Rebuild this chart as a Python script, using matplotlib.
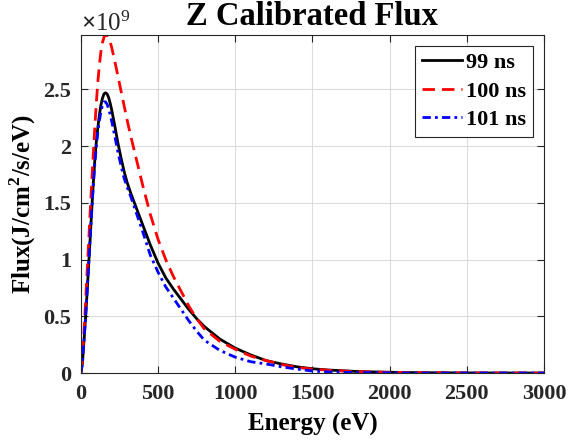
import numpy as np
import matplotlib
matplotlib.use("Agg")
import matplotlib.pyplot as plt
from matplotlib.ticker import ScalarFormatter

plt.rcParams['font.family'] = ['Liberation Serif', 'DejaVu Serif']
plt.rcParams['font.weight'] = 'bold'
plt.rcParams['mathtext.fontset'] = 'custom'
plt.rcParams['mathtext.rm'] = 'Liberation Serif'
plt.rcParams['mathtext.bf'] = 'Liberation Serif:bold'

# photon energy grid (eV)
energy = [0, 10, 20, 30, 40, 50, 60, 70, 80, 90, 100, 110, 120, 130, 140, 150,
          160, 170, 180, 190, 200, 220, 240, 260, 280, 300, 325, 350, 400, 450,
          500, 550, 600, 650, 700, 750, 800, 900, 1000, 1100, 1200, 1300, 1400,
          1500, 1600, 1800, 2000, 2200, 2500, 3000]

# flux in units of 1e9 J/cm^2/s/eV
flux_99 = [0, 0.08, 0.27, 0.47, 0.69, 0.93, 1.17, 1.42, 1.65, 1.86, 2.03, 2.16,
           2.27, 2.36, 2.42, 2.46, 2.47, 2.46, 2.43, 2.38, 2.32, 2.18, 2.03,
           1.90, 1.78, 1.68, 1.58, 1.49, 1.31, 1.13, 0.97, 0.84, 0.74, 0.65,
           0.56, 0.48, 0.41, 0.30, 0.22, 0.16, 0.11, 0.08, 0.055, 0.038, 0.027,
           0.013, 0.007, 0.003, 0.001, 0]
flux_100 = [0, 0.12, 0.35, 0.60, 0.87, 1.13, 1.40, 1.66, 1.91, 2.15, 2.37, 2.56,
            2.71, 2.83, 2.91, 2.96, 2.98, 2.98, 2.96, 2.92, 2.87, 2.75, 2.62,
            2.49, 2.36, 2.23, 2.08, 1.94, 1.66, 1.40, 1.18, 1.00, 0.85, 0.72,
            0.59, 0.48, 0.39, 0.28, 0.21, 0.15, 0.11, 0.075, 0.05, 0.035, 0.025,
            0.012, 0.006, 0.003, 0.001, 0]
flux_101 = [0, 0.08, 0.27, 0.47, 0.69, 0.93, 1.17, 1.41, 1.63, 1.83, 1.99, 2.12,
            2.22, 2.30, 2.36, 2.39, 2.39, 2.37, 2.33, 2.28, 2.22, 2.09, 1.95,
            1.83, 1.72, 1.64, 1.55, 1.45, 1.25, 1.04, 0.89, 0.76, 0.66, 0.56,
            0.46, 0.37, 0.29, 0.20, 0.14, 0.10, 0.08, 0.055, 0.035, 0.018, 0.01,
            0.004, 0.002, 0, 0, 0]

E = np.array(energy)
f99 = np.array(flux_99) * 1e9
f100 = np.array(flux_100) * 1e9
f101 = np.array(flux_101) * 1e9


class SciFormatter(ScalarFormatter):
    # plain tick numbers (0, 0.5, 1 ...) with the x10^9 offset kept
    def _set_format(self):
        self.format = '%g'


fig = plt.figure(figsize=(5.69, 4.42), dpi=100)
ax = fig.add_axes([0.142, 0.156, 0.814, 0.765])

ax.plot(E, f99, 'k-', lw=2, label='99 ns')
ax.plot(E, f100, 'r--', lw=2, label='100 ns', dashes=(4.5, 2.5))
ax.plot(E, f101, 'b-.', lw=2, label='101 ns', dashes=(3, 1.5, 1, 1.5))

ax.set_xlim(0, 3000)
ax.set_ylim(0, max(f100.max(), f99.max(), f101.max()))
ax.set_xticks([0, 500, 1000, 1500, 2000, 2500, 3000])
ax.set_yticks([0, 0.5e9, 1e9, 1.5e9, 2e9, 2.5e9])

fmt = SciFormatter(useMathText=True)
fmt.set_powerlimits((0, 0))
ax.yaxis.set_major_formatter(fmt)
ax.yaxis.get_offset_text().set_fontsize(18)
ax.yaxis.get_offset_text().set_fontweight('normal')

ax.grid(True, color='#dcdcdc', lw=0.8)
ax.set_axisbelow(True)
ax.tick_params(direction='in', top=True, right=True, labelsize=16,
               colors='#262626', length=5)
ax.tick_params(axis='x', pad=8)
ax.tick_params(axis='y', pad=7)
for s in ax.spines.values():
    s.set_color('#262626')

ax.set_xlabel('Energy (eV)', fontsize=18, fontweight='bold', labelpad=6)
ax.set_ylabel(r'Flux(J/cm$^\mathbf{2}$/s/eV)', fontsize=18, fontweight='bold',
              labelpad=4)
ax.set_title('Z Calibrated Flux', fontsize=23.5, fontweight='bold', pad=7)

leg = ax.legend(loc='upper right', fontsize=16, frameon=True, fancybox=False,
                edgecolor='#262626', framealpha=1, handlelength=1.8,
                handletextpad=0.2, borderpad=0.3, labelspacing=0.35,
                borderaxespad=0.5)
leg.get_frame().set_linewidth(0.8)

fig.savefig('out.png', dpi=100)
